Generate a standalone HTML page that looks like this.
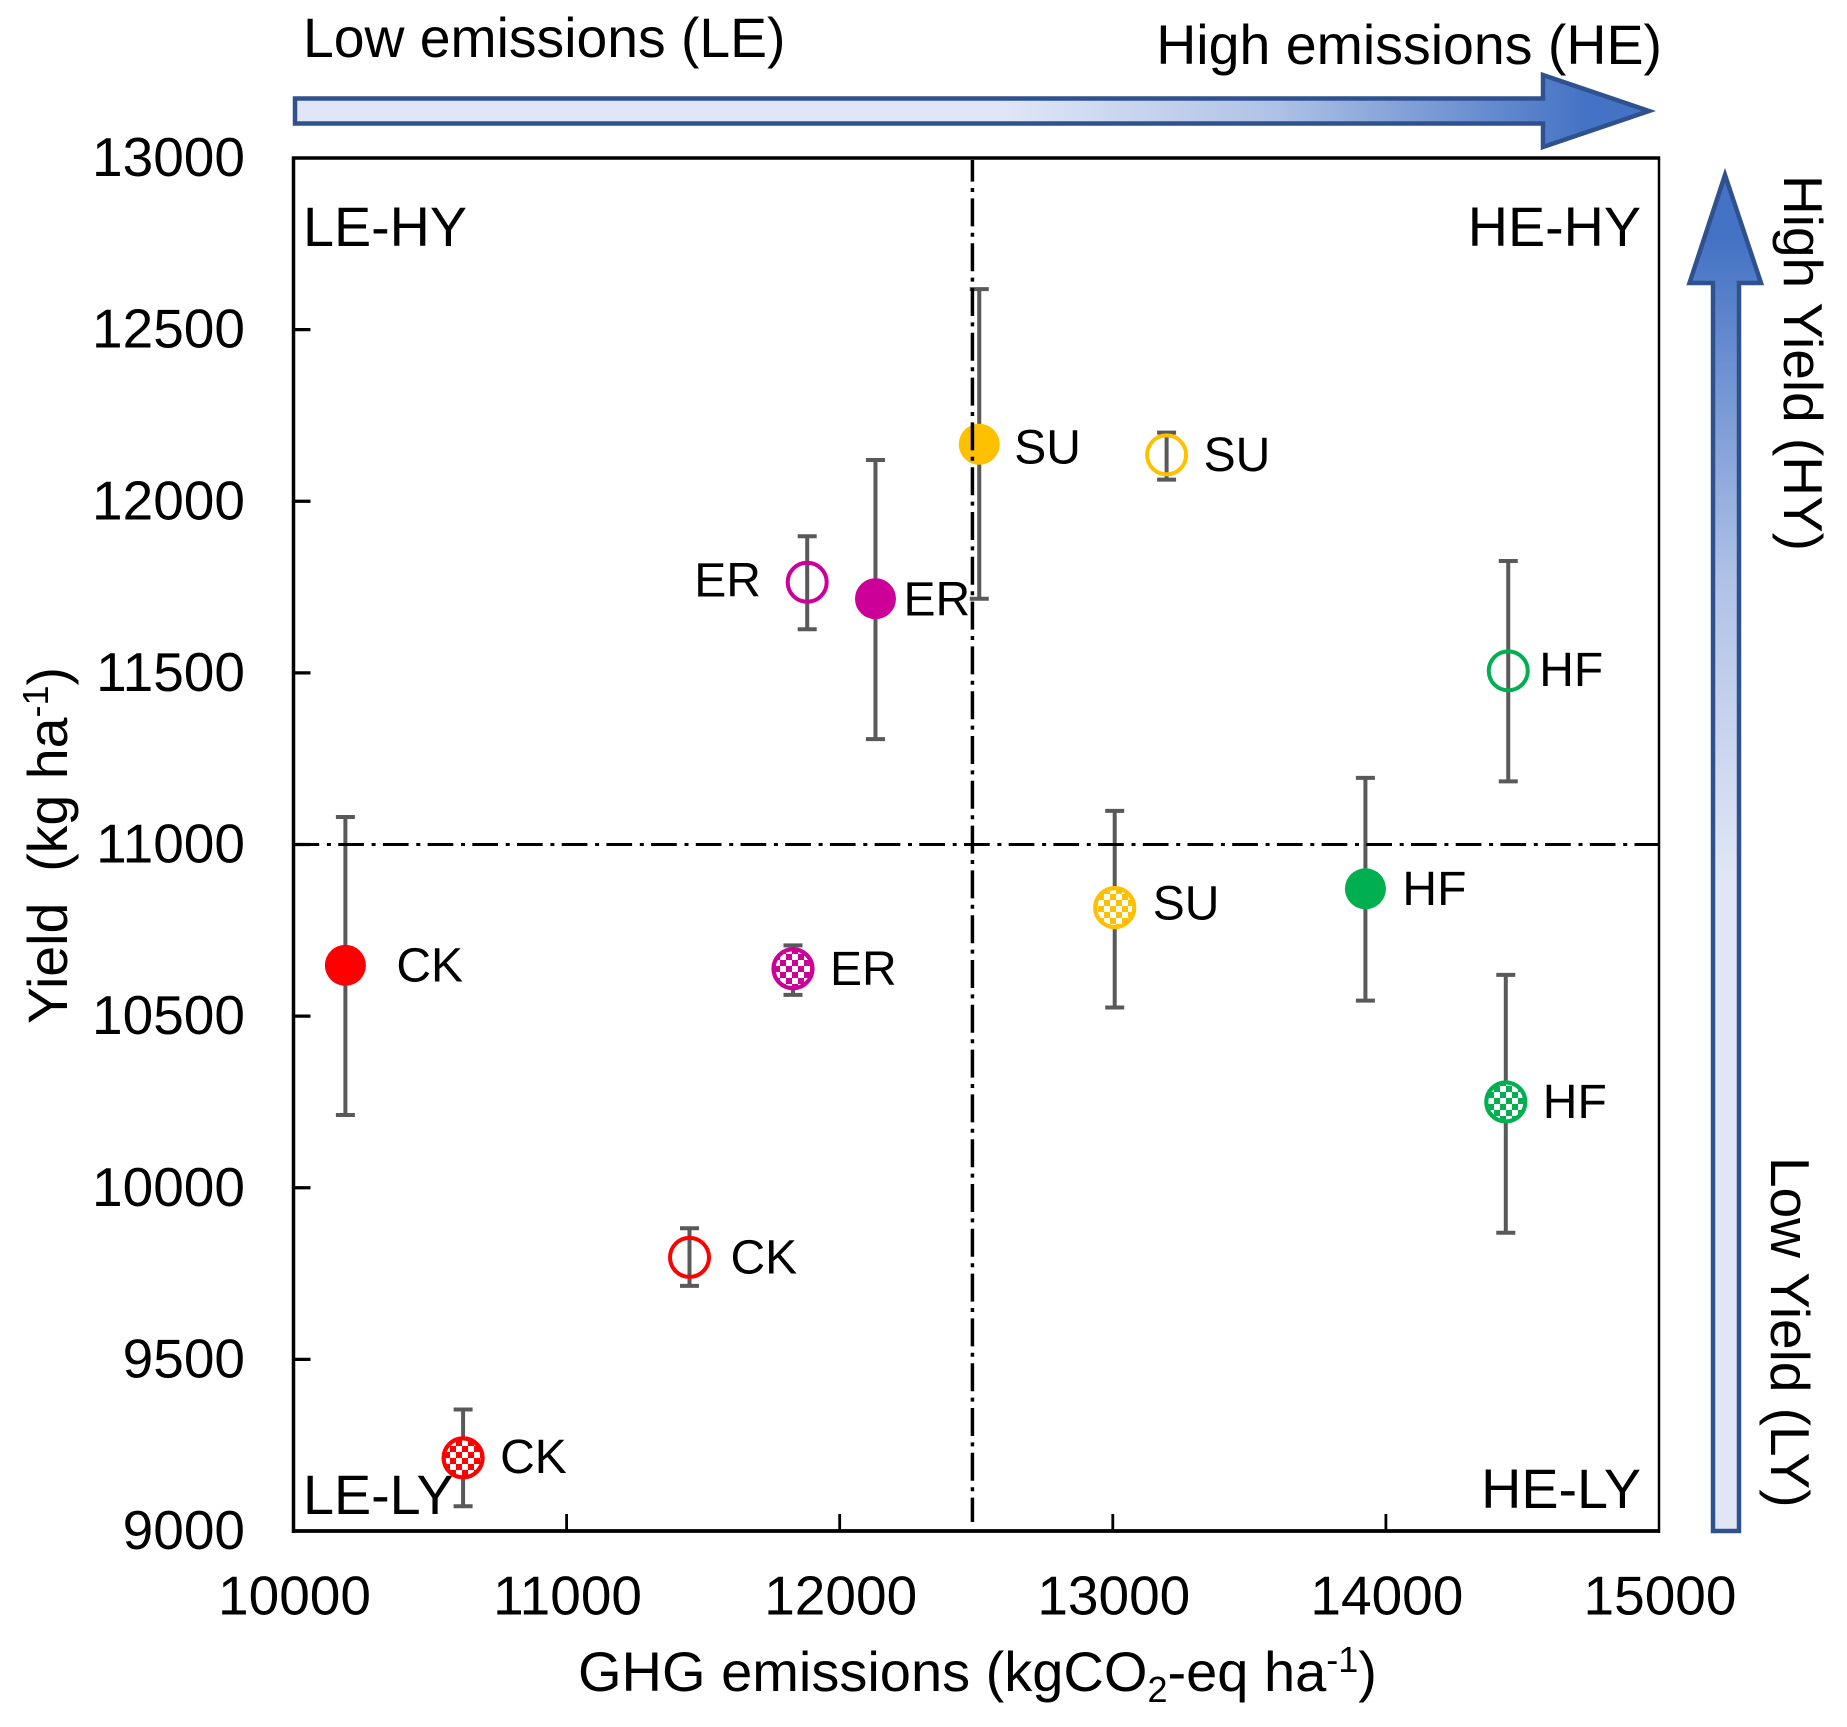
<!DOCTYPE html>
<html lang="en">
<head>
<meta charset="utf-8">
<title>Yield versus GHG emissions</title>
<style>
html,body{margin:0;padding:0;background:#fff;}
svg{display:block;}
text{font-family:"Liberation Sans",Arial,sans-serif;fill:#000;white-space:pre;}
</style>
</head>
<body>
<svg id="chart" xmlns="http://www.w3.org/2000/svg" width="1847" height="1727" viewBox="0 0 1847 1727">
  <defs>
    <linearGradient id="grad-h" gradientUnits="userSpaceOnUse" x1="293" y1="0" x2="1656" y2="0">
      <stop offset="0" stop-color="#E0E6F6"/>
      <stop offset="0.52" stop-color="#E0E6F6"/>
      <stop offset="0.72" stop-color="#AFC2E6"/>
      <stop offset="0.95" stop-color="#4472C4"/>
      <stop offset="1" stop-color="#4472C4"/>
    </linearGradient>
    <linearGradient id="grad-v" gradientUnits="userSpaceOnUse" x1="0" y1="170" x2="0" y2="1533">
      <stop offset="0" stop-color="#4472C4"/>
      <stop offset="0.05" stop-color="#4472C4"/>
      <stop offset="0.3" stop-color="#AFC2E6"/>
      <stop offset="0.52" stop-color="#E0E6F6"/>
      <stop offset="1" stop-color="#E0E6F6"/>
    </linearGradient>
  </defs>

  <rect x="0" y="0" width="1847" height="1727" fill="#fff"/>

  <path d="M295 98.5H1543V75L1649 111L1543 147V123.5H295Z" fill="url(#grad-h)" stroke="#2F528F" stroke-width="4.5"/>
  <path d="M1713 1531V283H1689.5L1725 175L1761 283H1739V1531Z" fill="url(#grad-v)" stroke="#2F528F" stroke-width="4.5"/>

  <text x="303" y="57" font-size="55.3">Low emissions (LE)</text>
  <text x="1662" y="64" font-size="55.5" text-anchor="end">High emissions (HE)</text>
  <text transform="translate(1784 175) rotate(90)" font-size="55">High Yield (HY)</text>
  <text transform="translate(1771 1157) rotate(90)" font-size="55">Low Yield (LY)</text>

  <g stroke="#000" fill="none">
    <line x1="293.5" x2="293.5" y1="156.5" y2="1533" stroke-width="3.5"/>
    <line x1="292" x2="1660" y1="158" y2="158" stroke-width="3.5"/>
    <line x1="292" x2="1660" y1="1531" y2="1531" stroke-width="3.8"/>
    <line x1="1659" x2="1659" y1="156.5" y2="1533" stroke-width="2.5"/>
  </g>

  <g id="x-ticks"></g>
  <g id="y-ticks"></g>

  <text x="303" y="246" font-size="55.7">LE-HY</text>
  <text x="1641" y="246" font-size="55.7" text-anchor="end">HE-HY</text>
  <text x="303" y="1514" font-size="55.7">LE-LY</text>
  <text x="1641" y="1508" font-size="55.7" text-anchor="end">HE-LY</text>

  <g id="marks"></g>
  <g id="thresholds"></g>

  <text x="578" y="1691" font-size="56">GHG emissions (kgCO<tspan font-size="36" dy="11">2</tspan><tspan dy="-11">-eq ha</tspan><tspan font-size="36" dy="-19">-1</tspan><tspan dy="19">)</tspan></text>
  <text transform="translate(67 1024) rotate(-90)" font-size="55.5">Yield  (kg ha<tspan font-size="36" dy="-19">-1</tspan><tspan dy="19">)</tspan></text>
</svg>

<script>
// Chart data
const xTickValues = [10000, 11000, 12000, 13000, 14000, 15000];
const yTickValues = [9000, 9500, 10000, 10500, 11000, 11500, 12000, 12500, 13000];
const categories = ["CK", "CK", "CK", "ER", "ER", "ER", "SU", "SU", "SU", "HF", "HF", "HF"];
const markerStyles = ["solid", "open", "check", "open", "solid", "check", "solid", "open", "check", "solid", "open", "check"];
const emissions = [10190, 11450, 10621, 11881, 12131, 11829, 12511, 13197, 13007, 13925, 14448, 14439];
const yields = [10648, 9797, 9213, 11764, 11716, 10638, 12166, 12135, 10816, 10871, 11506, 10250];
const yieldUpper = [11080, 9882, 9354, 11898, 12120, 10706, 12618, 12200, 11098, 11194, 11826, 10620];
const yieldLower = [10212, 9714, 9072, 11627, 11307, 10562, 11716, 12063, 10525, 10545, 11184, 9869];
const emissionsThreshold = 12486;
const yieldThreshold = 11000;

const NS = "http://www.w3.org/2000/svg";
const plot = {left: 293.5, right: 1659, top: 158, bottom: 1531};
const domainX = [10000, 15000];
const domainY = [9000, 13000];
const colorFor = {CK: "#FF0000", ER: "#CC0099", SU: "#FFC000", HF: "#00B050"};

function xScale(v) {
  return plot.left + (v - domainX[0]) / (domainX[1] - domainX[0]) * (plot.right - plot.left);
}
function yScale(v) {
  return plot.bottom - (v - domainY[0]) / (domainY[1] - domainY[0]) * (plot.bottom - plot.top);
}
function make(tag, attrs, parent, text) {
  const el = document.createElementNS(NS, tag);
  Object.keys(attrs).forEach(function (k) { el.setAttribute(k, attrs[k]); });
  if (text !== undefined) el.textContent = text;
  parent.appendChild(el);
  return el;
}

// Label placement relative to each marker, in the order of the data arrays.
function labelOffset(i) {
  const side = [51, 41, 37, -113, 28, 37, 35, 37, 38, 37, 31, 37];
  const lift = [-1, -1, -2, -3, 0, -1, 2, -1, -5, -1, -2, -1];
  return {dx: side[i], dy: lift[i]};
}

const svg = document.getElementById("chart");
const defs = svg.querySelector("defs");
Object.keys(colorFor).forEach(function (cat) {
  const p = make("pattern", {id: "check-" + cat, width: 12, height: 12, patternUnits: "userSpaceOnUse"}, defs);
  make("rect", {x: 0, y: 0, width: 12, height: 12, fill: "#fff"}, p);
  make("rect", {x: 0, y: 0, width: 6, height: 6, fill: colorFor[cat]}, p);
  make("rect", {x: 6, y: 6, width: 6, height: 6, fill: colorFor[cat]}, p);
});

// Axis ticks
const xTicks = document.getElementById("x-ticks");
xTickValues.forEach(function (v) {
  const x = xScale(v);
  if (v > domainX[0] && v < domainX[1]) {
    const t = make("line", {x1: x, x2: x, y1: plot.bottom - 17, y2: plot.bottom, stroke: "#000", "stroke-width": 2.8}, xTicks);
    
    
  }
  const l = make("text", {x: x + 1, y: 1614.5, "font-size": 55, "text-anchor": "middle"}, xTicks, String(v));
  
  
});
const yTicks = document.getElementById("y-ticks");
yTickValues.forEach(function (v) {
  const y = yScale(v);
  if (v > domainY[0] && v < domainY[1]) {
    const t = make("line", {x1: plot.left, x2: plot.left + 17, y1: y, y2: y, stroke: "#000", "stroke-width": 3.3}, yTicks);
    
    
  }
  const l = make("text", {x: 245, y: y + 18, "font-size": 55, "text-anchor": "end"}, yTicks, String(v));
  
  
});

// Data points
const marks = document.getElementById("marks");
categories.forEach(function (cat, i) {
  const g = make("g", {}, marks);
  
  
  const cx = xScale(emissions[i]);
  const cy = yScale(yields[i]);
  const hi = yScale(yieldUpper[i]);
  const lo = yScale(yieldLower[i]);
  const barAttrs = {stroke: "#595959", "stroke-width": 4};
  const bar = make("path", Object.assign({fill: "none", d: "M" + cx + " " + hi + "V" + lo + "M" + (cx - 9.5) + " " + hi + "H" + (cx + 9.5) + "M" + (cx - 9.5) + " " + lo + "H" + (cx + 9.5)}, barAttrs), g);
  
  
  const style = markerStyles[i];
  const color = colorFor[cat];
  const circleAttrs = {cx: cx, cy: cy};
  if (style === "solid") {
    circleAttrs.r = 20.5;
    circleAttrs.fill = color;
  } else if (style === "open") {
    circleAttrs.r = 19.5;
    circleAttrs.fill = "none";
    circleAttrs.stroke = color;
    circleAttrs["stroke-width"] = 4;
  } else {
    circleAttrs.r = 19.5;
    circleAttrs.fill = "url(#check-" + cat + ")";
    circleAttrs.stroke = color;
    circleAttrs["stroke-width"] = 4.2;
  }
  const dot = make("circle", circleAttrs, g);
  
  
  const off = labelOffset(i);
  const label = make("text", {x: cx + off.dx, y: cy + off.dy + 17, "font-size": 48}, g, cat);
  
  
});

// Threshold lines
const thresholds = document.getElementById("thresholds");
const vx = xScale(emissionsThreshold);
const vLine = make("line", {x1: vx, x2: vx, y1: plot.top + 2, y2: plot.bottom - 9, stroke: "#000", "stroke-width": 3.5, "stroke-dasharray": "28 6.4 4 6.4", "stroke-dashoffset": 6.4}, thresholds);


const hy = yScale(yieldThreshold);
const hLine = make("line", {x1: plot.left, x2: plot.right, y1: hy, y2: hy, stroke: "#000", "stroke-width": 3, "stroke-dasharray": "25.7 7.7 4 7.3"}, thresholds);


</script>
</body>
</html>
